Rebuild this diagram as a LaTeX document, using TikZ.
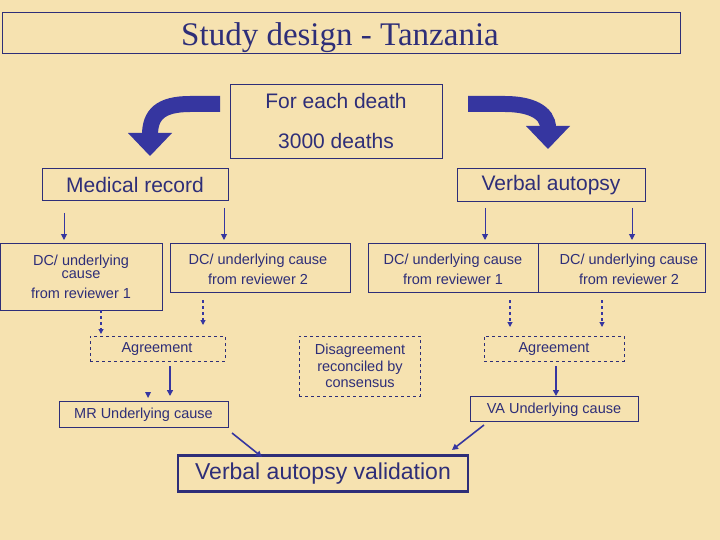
\documentclass[tikz,border=0pt]{standalone}
\usepackage{fontspec}
\setmainfont{Liberation Sans}
\newfontfamily\titlefont{Liberation Serif}
\usetikzlibrary{arrows.meta}
\definecolor{bg}{HTML}{F6E2B0}
\definecolor{navy}{HTML}{2E2E78}
\definecolor{blu}{HTML}{3636A0}
\begin{document}
\begin{tikzpicture}[x=1pt,y=-1pt,
 box/.style={draw=navy,line width=0.8pt,text=navy,align=center,inner sep=0pt},
 dbox/.style={box,dashed},
 lbl/.style={text=navy,font=\fontsize{21}{24}\selectfont,align=center},
 sm/.style={text=navy,font=\fontsize{14.5}{20}\selectfont,align=center},
 con/.style={draw=blu,line width=1.6pt,-{Triangle[length=6pt,width=6pt]}},
 dcon/.style={draw=blu,line width=1.1pt,dashed,-{Triangle[length=5pt,width=5pt]}},
 big/.style={draw=blu,line width=16pt}]
\fill[bg] (0,0) rectangle (720,540);
\useasboundingbox (0,0) rectangle (720,540);
\node[box,minimum width=678pt,minimum height=41pt] (title) at (341,32.5) {};
\node[text=navy,font=\titlefont\fontsize{33}{36}\selectfont] (tt) at (340,38) {Study design - Tanzania};
\node[box,minimum width=212pt,minimum height=74pt] (top) at (336,121) {};
\node[lbl] (t1) at (336,101) {For each death};
\node[lbl] (t2) at (336,141) {3000 deaths};
% big curved arrows
\draw[big] (220,104) -- (190,104) .. controls (160,104) and (150,115) .. (150,135);
\fill[blu] (128,133) -- (172,133) -- (150,156) -- cycle;
\draw[big] (468,104) -- (505,104) .. controls (530,104) and (548,112) .. (548,128);
\fill[blu] (526,126) -- (570,126) -- (548,149) -- cycle;
\node[box,minimum width=186pt,minimum height=32pt] (mr) at (135,184) {};
\node[lbl] (mrt) at (135,185) {Medical record};
\node[box,minimum width=188pt,minimum height=33pt] (va) at (551,184.5) {};
\node[lbl] (vat) at (551,185.5) {Verbal autopsy};
\node[box,minimum width=162pt,minimum height=67pt] (d1) at (81,276.5) {};
\node[sm,font=\fontsize{14.5}{17}\selectfont] at (81,277) {DC/ underlying\\[-4pt]cause\\[3pt]from reviewer 1};
\node[box,minimum width=180pt,minimum height=49pt] (d2) at (260,267.5) {};
\node[sm] at (258,269) {DC/ underlying cause\\from reviewer 2};
\node[box,minimum width=170pt,minimum height=49pt] (d3) at (453,267.5) {};
\node[sm] at (453,269) {DC/ underlying cause\\from reviewer 1};
\node[box,minimum width=167pt,minimum height=49pt] (d4) at (621.5,267.5) {};
\node[sm] at (629,269) {DC/ underlying cause\\from reviewer 2};
\coordinate (s1) at (64,213); \coordinate (e1) at (64,240);
\coordinate (s2) at (224,208); \coordinate (e2) at (224,240);
\coordinate (s3) at (485,208); \coordinate (e3) at (485,240);
\coordinate (s4) at (632,208); \coordinate (e4) at (632,240);
\draw[con,line width=1pt] (s1) -- (e1);
\draw[con,line width=1pt] (s2) -- (e2);
\draw[con,line width=1pt] (s3) -- (e3);
\draw[con,line width=1pt] (s4) -- (e4);
\node[dbox,minimum width=135pt,minimum height=25pt] (ag1) at (157.5,348.5) {};
\node[sm] at (157,349) {Agreement};
\node[dbox,minimum width=121pt,minimum height=60pt] (dis) at (359.5,366) {};
\node[sm,font=\fontsize{14.5}{16.5}\selectfont] at (360,366) {Disagreement\\reconciled by\\consensus};
\node[dbox,minimum width=140pt,minimum height=25pt] (ag2) at (554,348.5) {};
\node[sm] at (554,349) {Agreement};
\coordinate (a) at (101,310); \coordinate (b) at (101,334);
\draw[dcon] (a) -- (b);
\coordinate (c) at (203,300); \coordinate (d) at (203,325);
\draw[dcon] (c) -- (d);
\coordinate (e) at (510,300); \coordinate (f) at (510,327);
\draw[dcon] (e) -- (f);
\coordinate (g) at (602,300); \coordinate (h) at (602,327);
\draw[dcon] (g) -- (h);
\node[box,minimum width=169pt,minimum height=26pt] (mru) at (143.5,414) {};
\node[sm] at (143.5,415) {MR Underlying cause};
\node[box,minimum width=168pt,minimum height=25pt] (vau) at (554,408.5) {};
\node[sm] at (554,409.5) {VA Underlying cause};
\fill[blu] (145,392) -- (151,392) -- (148,398) -- cycle;
\draw[con] (170,366) -- (170,396);
\draw[con] (556,366) -- (556,396);
\node[box,line width=2.4pt,minimum width=290pt,minimum height=36pt] (fin) at (323,473.5) {};
\node[text=navy,font=\fontsize{23}{26}\selectfont] at (323,474) {Verbal autopsy validation};
\draw[con] (232,433) -- (262,457);
\draw[con] (484,425) -- (452,450);
\end{tikzpicture}
\end{document}
